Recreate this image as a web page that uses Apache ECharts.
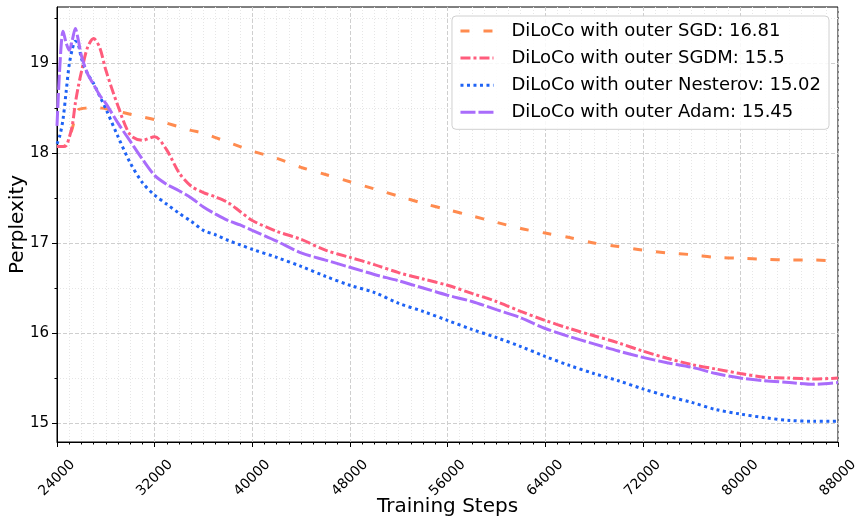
<!DOCTYPE html>
<html>
<head>
<meta charset="utf-8">
<script src="https://cdn.jsdelivr.net/npm/echarts@6/dist/echarts.min.js"></script>
<style>
  html, body { margin: 0; padding: 0; background: #fff; }
  #chart { width: 867px; height: 524px; }
</style>
</head>
<body>
<div id="chart"></div>
<script>
// training steps shared by all runs
var steps = [24000, 24250, 24500, 24750, 25000, 25250, 25500, 25750, 26000, 26500, 27000, 27500, 28000,
  29000, 30000, 31000, 32000, 33000, 34000, 35000, 36000, 37000, 38000, 39000, 40000,
  42000, 44000, 46000, 48000, 50000, 52000, 54000, 56000, 58000, 60000, 62000, 64000, 66000,
  68000, 70000, 72000, 74000, 76000, 78000, 80000, 82000, 84000, 86000, 88000];

var sgd = [18.07, 18.07, 18.07, 18.10, 18.18, 18.27, 18.40, 18.48, 18.49, 18.50, 18.51, 18.50, 18.49,
  18.46, 18.43, 18.40, 18.37, 18.33, 18.29, 18.25, 18.22, 18.17, 18.12, 18.07, 18.02,
  17.94, 17.84, 17.76, 17.68, 17.60, 17.52, 17.44, 17.37, 17.30, 17.23, 17.16, 17.11, 17.06,
  17.00, 16.96, 16.92, 16.89, 16.87, 16.84, 16.83, 16.82, 16.81, 16.81, 16.80];

var sgdm = [18.07, 18.07, 18.07, 18.08, 18.17, 18.30, 18.55, 18.74, 18.90, 19.17, 19.27, 19.17, 18.92,
  18.52, 18.20, 18.14, 18.18, 18.03, 17.78, 17.63, 17.56, 17.51, 17.45, 17.35, 17.25,
  17.13, 17.04, 16.92, 16.84, 16.76, 16.67, 16.60, 16.53, 16.44, 16.35, 16.24, 16.14, 16.05,
  15.97, 15.89, 15.80, 15.72, 15.65, 15.60, 15.55, 15.51, 15.50, 15.49, 15.50];

var nesterov = [18.10, 18.20, 18.38, 18.68, 18.98, 19.15, 19.24, 19.20, 19.05, 18.88, 18.77, 18.63, 18.49,
  18.18, 17.89, 17.67, 17.53, 17.43, 17.33, 17.24, 17.14, 17.09, 17.03, 16.98, 16.93,
  16.84, 16.74, 16.63, 16.53, 16.45, 16.33, 16.24, 16.14, 16.04, 15.95, 15.85, 15.74, 15.64,
  15.55, 15.47, 15.38, 15.30, 15.23, 15.15, 15.10, 15.06, 15.03, 15.02, 15.02];

var adam = [18.30, 19.00, 19.35, 19.22, 19.14, 19.25, 19.38, 19.25, 19.08, 18.88, 18.76, 18.64, 18.55,
  18.33, 18.13, 17.93, 17.75, 17.65, 17.58, 17.50, 17.40, 17.32, 17.25, 17.20, 17.14,
  17.02, 16.89, 16.81, 16.73, 16.65, 16.58, 16.50, 16.42, 16.35, 16.26, 16.17, 16.05, 15.96,
  15.88, 15.80, 15.73, 15.67, 15.62, 15.55, 15.50, 15.47, 15.45, 15.43, 15.45];

var names = ['DiLoCo with outer SGD: 16.81', 'DiLoCo with outer SGDM: 15.5',
  'DiLoCo with outer Nesterov: 15.02', 'DiLoCo with outer Adam: 15.45'];
var colors = ['#ff8b4f', '#ff5c7c', '#1f63f5', '#a96cfb'];
var dashes = [[9, 14], [10, 3, 3, 3], [3, 3.5], [15, 3]];

var yMajor = [15, 16, 17, 18, 19];
var yMinor = [15.5, 16.5, 17.5, 18.5, 19.5];

function pairs(ys) {
  return steps.map(function (s, i) { return [s, ys[i]]; });
}

var chart = echarts.init(document.getElementById('chart'));

var series = [sgd, sgdm, nesterov, adam].map(function (ys, i) {
  return {
    name: names[i],
    type: 'line',
    data: pairs(ys),
    symbol: 'none',
    smooth: 0.3,
    lineStyle: { color: colors[i], width: 3, type: dashes[i], cap: 'butt' },
    itemStyle: { color: colors[i] },
    z: 3 + i
  };
});

var option = {
  animation: false,
  backgroundColor: '#fff',
  textStyle: { fontFamily: 'DejaVu Sans' },
  grid: {
    left: 57, right: 29, top: 7, bottom: 82,
    containLabel: false, outerBoundsMode: 'none',
    show: true, borderColor: '#000', borderWidth: 1, backgroundColor: 'transparent'
  },
  legend: {
    orient: 'vertical',
    right: 38,
    top: 16,
    itemWidth: 33,
    itemHeight: 18,
    itemGap: 9.1,
    padding: [6, 8, 8, 7],
    backgroundColor: 'rgba(255,255,255,0.85)',
    borderColor: '#d0d0d0',
    borderWidth: 1,
    borderRadius: 4,
    itemStyle: { opacity: 0 },
    lineStyle: { width: 3 },
    textStyle: { fontSize: 18, color: '#000', fontFamily: 'DejaVu Sans', padding: [0, 0, 0, 13] },
    data: names
  },
  xAxis: {
    type: 'value',
    min: 24000,
    max: 88000,
    interval: 8000,
    name: 'Training Steps',
    nameLocation: 'middle',
    nameGap: 55,
    nameMoveOverlap: false,
    nameTextStyle: { fontSize: 20, color: '#000', fontFamily: 'DejaVu Sans' },
    axisLine: { lineStyle: { color: '#000', width: 1 } },
    axisTick: { length: 5, lineStyle: { color: '#000' } },
    minorTick: { show: true, splitNumber: 8, length: 2.5, lineStyle: { color: '#000' } },
    axisLabel: {
      rotate: 45, fontSize: 14, color: '#000', margin: 36, fontFamily: 'DejaVu Sans',
      align: 'center', verticalAlign: 'middle',
      formatter: function (v) { return String(v); }
    },
    splitLine: { show: true, lineStyle: { color: '#cfcfcf', type: [4, 2], width: 1 } },
    minorSplitLine: { show: true, lineStyle: { color: '#e6e6e6', type: [1, 2], width: 1 } }
  },
  yAxis: [{
    type: 'value',
    min: 14.79,
    max: 19.62,
    name: 'Perplexity',
    nameLocation: 'middle',
    nameGap: 29,
    nameMoveOverlap: false,
    nameTextStyle: { fontSize: 20, color: '#000', fontFamily: 'DejaVu Sans' },
    axisLine: { show: true, lineStyle: { color: '#000', width: 1 } },
    axisTick: { show: true, length: 5, customValues: yMajor, lineStyle: { color: '#000' } },
    axisLabel: { fontSize: 15, color: '#000', margin: 8, customValues: yMajor, fontFamily: 'DejaVu Sans' },
    splitLine: { show: true, lineStyle: { color: '#cfcfcf', type: [4, 2], width: 1 } }
  }, {
    type: 'value',
    position: 'left',
    min: 14.79,
    max: 19.62,
    axisLine: { show: false },
    axisTick: { show: true, length: 2.5, customValues: yMinor, lineStyle: { color: '#000' } },
    axisLabel: { show: false },
    splitLine: { show: true, lineStyle: { color: '#e6e6e6', type: [1, 2], width: 1 } }
  }],
  series: series
};

chart.setOption(option);
</script>
</body>
</html>
